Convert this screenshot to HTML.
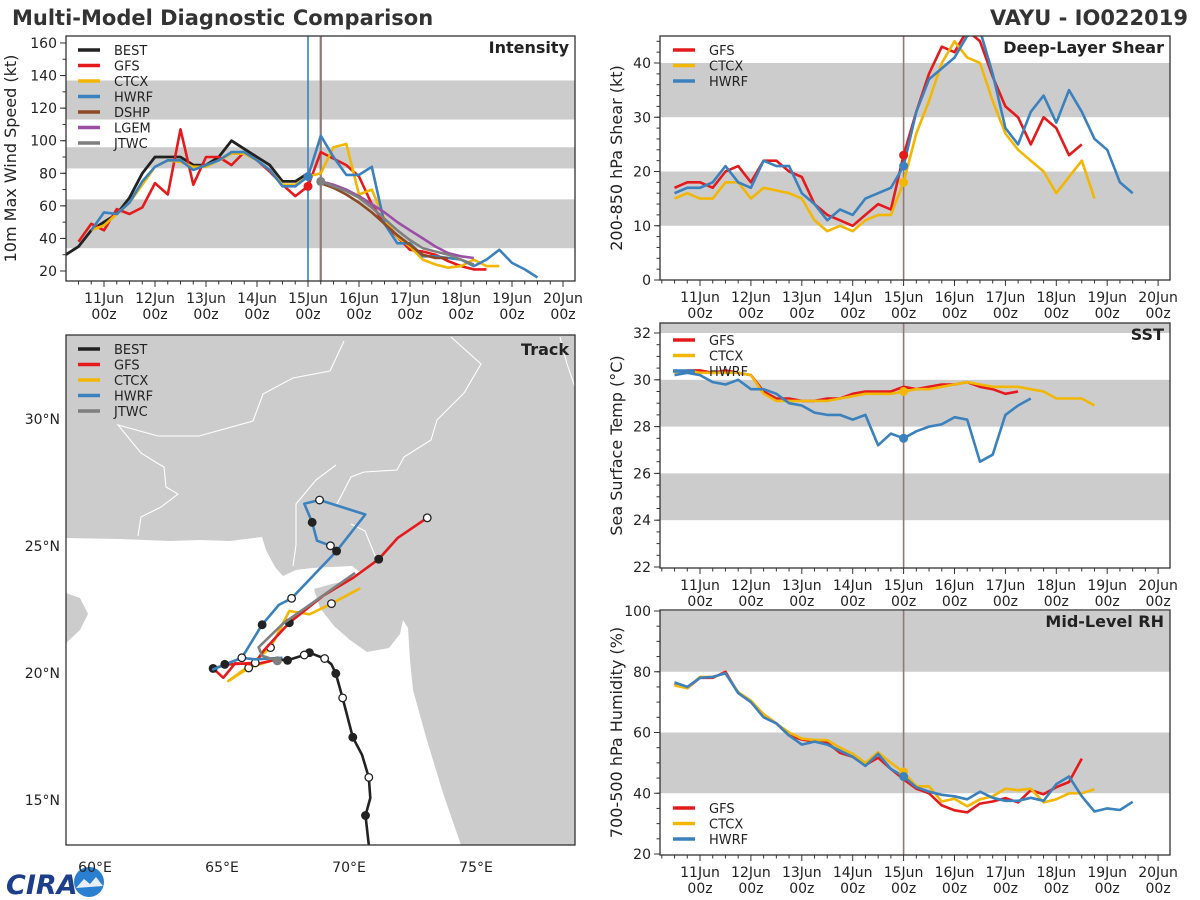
<!DOCTYPE html>
<html><head><meta charset="utf-8"><style>
html,body{margin:0;padding:0;background:#fff;}
svg{display:block;font-family:"DejaVu Sans","Liberation Sans",sans-serif;}
</style></head>
<body>
<svg id="fig" width="1200" height="900" viewBox="0 0 1200 900" xmlns="http://www.w3.org/2000/svg">
<text x="12" y="25" font-size="21" font-weight="bold" fill="#333">Multi-Model Diagnostic Comparison</text>
<text x="1188" y="25" font-size="21" font-weight="bold" fill="#333" text-anchor="end">VAYU - IO022019</text>
<g>
<text x="6" y="894" font-size="27" font-weight="bold" font-style="italic" fill="#1d3f8a">CIRA</text>
<circle cx="89" cy="882" r="15" fill="#2a7fd0"></circle>
<path d="M76 888 L84 879 L90 884 L96 877 L103 886 Z" fill="#e8eef8"></path>
</g>
<g id="mapbg">
<rect x="66" y="335" width="509" height="510" fill="#cccccc"></rect>
<polygon points="66,538 120,539 170,541 200,540 230,541 262,537 266,550 275,567 283,576 296,570 312,568 332,567 352,566 360,572 350,580 332,584 314,589 320,608 334,626 350,640 367,652 389,648 400,634 403,620 408,628 410,660 413,690 426,737 443,793 461,845 66,845" fill="#ffffff"></polygon>
<polygon points="66,593 80,598 88,614 80,630 66,643" fill="#cccccc"></polygon>
<polyline points="138,536 141,517 161,507 178,494 166,487 164,467 157,463 141,453 118,425 158,436 199,436 253,421 263,394 293,378 330,371 344,341" fill="none" stroke="#ffffff" stroke-width="1.1"></polyline>
<polyline points="293,566 296,545 296,504 316,480 336,465" fill="none" stroke="#ffffff" stroke-width="1.1"></polyline>
<polyline points="337,504 351,477 364,472 397,470 404,457 431,440 437,420 464,393 481,364 451,337" fill="none" stroke="#ffffff" stroke-width="1.1"></polyline>
<polyline points="351,524 365,531 376,558" fill="none" stroke="#ffffff" stroke-width="1.1"></polyline>
<polyline points="560,337 567,364 575,387" fill="none" stroke="#ffffff" stroke-width="1.1"></polyline>
</g>
</svg>
<script>
// ---------------- DATA ----------------
const dayLabels = ['11Jun','12Jun','13Jun','14Jun','15Jun','16Jun','17Jun','18Jun','19Jun','20Jun'];
const hourLabel = '00z';
const bestIntStart = -0.75;
const bestInt = [30,35,45,50,55,65,80,90,90,90,85,85,90,100,95,90,85,75,75,80];
const gfsIntStart = -0.5;
const gfsInt = [38,49,45,58,55,59,74,67,107,73,90,90,85,93,88,81,73,66,72,93,89,85,78,61,49,41,33,32,30,26,23,21,21];
const ctcxIntStart = -0.25;
const ctcxInt = [45,48,55,62,73,84,88,87,84,84,88,92,92,88,82,73,73,78,80,96,98,67,70,52,41,35,27,24,22,23,27,23,23];
const hwrfIntStart = -0.25;
const hwrfInt = [45,56,55,62,75,84,88,88,82,85,88,93,93,88,82,72,72,78,103,90,79,79,84,49,37,37,29,29,28,27,23,27,33,25,21,16];
const dshpIntStart = 4.25;
const dshpInt = [74,71,67,62,56,49,42,36,30,28,28];
const lgemIntStart = 4.25;
const lgemInt = [75,73,70,66,61,56,50,45,40,35,31,29,28];
const jtwcIntStart = 4.25;
const jtwcInt = [75,72,69,65,59,52,45,39,34,32,30,27,24];
const intTicks = [20,40,60,80,100,120,140,160];
const gfsShear = [17,18,18,17,20,21,18,22,22,20,19,14,12,11,10,12,14,13,23,31,38,43,42,46,44,37.5,32,30,25,30,28,23,25];
const ctcxShear = [15,16,15,15,18,18,15,17,16.5,16,15,11,9,10,9,11,12,12,18,27,33,40,44,41,40,33,27,24,22,20,16,19,22,15];
const hwrfShear = [16,17,17,18,21,18,17,22,21,21,16,14,11,13,12,15,16,17,21,31,37,39,41,45,46,38,28,25,31,34,29,35,31,26,24,18,16];
const shearTicks = [0,10,20,30,40];
const gfsSst = [30.3,30.4,30.4,30.3,30.4,30.3,30.2,29.5,29.2,29.2,29.1,29.1,29.2,29.2,29.4,29.5,29.5,29.5,29.7,29.6,29.7,29.8,29.8,29.9,29.7,29.6,29.4,29.5];
const ctcxSst = [30.3,30.4,30.3,30.3,30.3,30.3,30.2,29.4,29.1,29.1,29.1,29.1,29.1,29.2,29.3,29.4,29.4,29.4,29.5,29.6,29.6,29.7,29.8,29.9,29.8,29.7,29.7,29.7,29.6,29.5,29.2,29.2,29.2,28.9];
const hwrfSst = [30.2,30.3,30.2,29.9,29.8,30.0,29.6,29.6,29.4,29.0,28.9,28.6,28.5,28.5,28.3,28.5,27.2,27.7,27.5,27.8,28.0,28.1,28.4,28.3,26.5,26.8,28.5,28.9,29.2];
const sstTicks = [22,24,26,28,30,32];
const gfsRh = [76,74.6,78,78,80,73,70,66,63,59,57.7,57,56.6,53.3,52,49.3,51.7,48,44.6,41.5,40,36,34.4,33.7,36.6,37.3,38.4,37,41,39.7,42,43.7,51.4];
const ctcxRh = [75.5,74.6,78.3,78.3,79.5,73.3,70.5,66,63,60,58,57.5,57.5,55,53,50,53.5,50,47,42.3,42.3,37.3,38.2,35.7,38,39,41.5,41,41.5,37,38,40,40,41.3];
const hwrfRh = [76.5,75,78,78.3,79.5,73,70,65,63,59,56,57,56,54,52,49,53,48,45.5,42,40.5,39.5,39,38,40.5,38.5,37.5,37.5,38.5,37.5,43,45.5,39,34,35,34.5,37.2];
const rhTicks = [20,40,60,80,100];
const rightStart = -0.5;
const bestLon = [70.78,70.65,70.84,70.78,70.51,70.15,69.75,69.48,69.31,69.04,68.44,68.24,67.58,67.11];
const bestLat = [13.23,14.39,15.08,15.89,16.78,17.47,19.02,19.98,20.34,20.57,20.80,20.71,20.50,20.54];
const bestMk  = ['','f','','o','','f','o','f','','o','f','o','f',''];
const gfsLon = [67.18,66.31,65.52,65.05,64.65,65.25,66.31,66.65,67.65,68.98,70.18,71.17,71.91,73.08];
const gfsLat = [20.54,20.34,20.38,19.81,20.18,20.34,20.40,20.89,21.98,23.04,23.76,24.48,25.31,26.11];
const gfsMk  = ['','','','','f','','o','','f','','','f','','o'];
const hwrfLon = [67.38,66.31,65.78,64.65,65.11,65.78,66.58,67.24,67.74,69.51,70.64,68.84,68.24,68.55,68.74,69.27,69.55];
const hwrfLat = [20.60,20.54,20.60,20.14,20.34,20.60,21.90,22.68,22.94,24.80,26.24,26.81,26.66,25.93,25.21,25.01,24.80];
const hwrfMk  = ['','','','','f','o','f','','o','f','','o','','f','','o',''];
const ctcxLon = [67.11,66.05,65.25,66.05,66.91,67.65,68.44,69.31,70.44];
const ctcxLat = [20.54,20.20,19.68,20.27,21.00,22.44,22.31,22.73,23.34];
const ctcxMk  = ['','o','','','o','','','o',''];
const jtwcLon = [67.18,66.58,66.44,67.38,68.98,70.24];
const jtwcLat = [20.48,20.68,21.01,21.93,23.05,23.94];
const lonTicks = [60,65,70,75];
const latTicks = [15,20,25,30];

const C = {BEST:'#222222',GFS:'#e41a1c',CTCX:'#f2b705',HWRF:'#3b81bd',DSHP:'#8c4a26',LGEM:'#9b4fa5',JTWC:'#7f7f7f'};
const NS='http://www.w3.org/2000/svg';
const svg=document.getElementById('fig');
function mk(tag,attrs,parent){const e=document.createElementNS(NS,tag);for(const k in attrs)e.setAttribute(k,attrs[k]);(parent||svg).appendChild(e);return e;}

function panel(p){
  const g=mk('g',{});
  
  
  const xs=t=>p.xa+p.xb*t;
  const ys=v=>p.yA+(v-p.vA)*(p.yB-p.yA)/(p.vB-p.vA);
  p.xs=xs;p.ys=ys;p.g=g;
  const cid='clip-'+p.name;
  const cp=mk('clipPath',{id:cid},g);
  mk('rect',{x:p.x0,y:p.y0,width:p.x1-p.x0,height:p.y1-p.y0},cp);
  p.clip='url(#'+cid+')';
  for(const b of p.bands){
    const ya=Math.max(p.y0,ys(b[1])), yb=Math.min(p.y1,ys(b[0]));
    const r=mk('rect',{x:p.x0,y:ya,width:p.x1-p.x0,height:yb-ya,fill:'#cccccc'},g);
    
    
  }
  for(let i=-3;i<=40;i++){
    const t=i*0.25, x=xs(t);
    if(x<p.x0||x>p.x1)continue;
    const major=(i%4===0);
    mk('line',{x1:x,x2:x,y1:p.y1,y2:p.y1+(major?6:3.5),stroke:'#333','stroke-width':1},g);
  }
  dayLabels.forEach((d,i)=>{
    const x=xs(i);
    const t1=mk('text',{x:x,y:p.y1+22,'font-size':14,'text-anchor':'middle',fill:'#222'},g);
    t1.textContent=d;
    
    
    const t2=mk('text',{x:x,y:p.y1+38,'font-size':14,'text-anchor':'middle',fill:'#222'},g);
    t2.textContent=hourLabel;
    
    
  });
  for(let v=p.minorStart;v<=p.vTop+1e-6;v+=p.minor){
    const y=ys(v); if(y<p.y0-0.5||y>p.y1+0.5)continue;
    mk('line',{x1:p.x0-3.5,x2:p.x0,y1:y,y2:y,stroke:'#333','stroke-width':1},g);
  }
  p.ticks.forEach(v=>{
    const y=ys(v);
    mk('line',{x1:p.x0-6,x2:p.x0,y1:y,y2:y,stroke:'#333','stroke-width':1},g);
    const t=mk('text',{x:p.x0-9,y:y+5,'font-size':14,'text-anchor':'end',fill:'#222'},g);
    t.textContent=v;
    
    
  });
  const cy=(p.y0+p.y1)/2;
  const yl=mk('text',{x:p.ylx,y:cy,'font-size':16,'text-anchor':'middle',fill:'#222',transform:'rotate(-90 '+p.ylx+' '+cy+')'},g);
  yl.textContent=p.ylabel;
  
  
  const tt=mk('text',{x:p.x1-6,y:p.y0+17,'font-size':16,'font-weight':'bold','text-anchor':'end',fill:'#222'},g);
  tt.textContent=p.title;
  
  
  return p;
}
function frame(p){
  const f=mk('rect',{x:p.x0,y:p.y0,width:p.x1-p.x0,height:p.y1-p.y0,fill:'none',stroke:'#333','stroke-width':1.3},p.g);
  
  
}
function series(p,data,start,color,name,w){
  const pts=data.map((v,i)=>p.xs(start+i*0.25).toFixed(1)+','+p.ys(v).toFixed(1)).join(' ');
  const l=mk('polyline',{points:pts,fill:'none',stroke:color,'stroke-width':w||2.6,'stroke-linejoin':'round','clip-path':p.clip},p.g);
  
  
  return l;
}
function dot(p,t,v,color,name){
  const c=mk('circle',{cx:p.xs(t),cy:p.ys(v),r:4.5,fill:color},p.g);
  
  
}
function vline(p,t,color,w){
  const l=mk('line',{x1:p.xs(t),x2:p.xs(t),y1:p.y0,y2:p.y1,stroke:color,'stroke-width':w||1.6},p.g);
  
  
}
function legend(g,x,y,items,step){
  items.forEach((it,i)=>{
    const yy=y+i*step;
    const l=mk('line',{x1:x,x2:x+22,y1:yy,y2:yy,stroke:C[it],'stroke-width':3.5},g);
    
    
    const t=mk('text',{x:x+36,y:yy+5,'font-size':13,fill:'#222'},g);
    t.textContent=it;
    
    
  });
}

const pI=panel({name:'intensity',x0:66,x1:575,y0:36,y1:281,xa:104,xb:51,yA:271,vA:20,yB:43,vB:160,vTop:164,
  bands:[[34,64],[83,96],[113,137]],ticks:intTicks,minor:10,minorStart:20,ylabel:'10m Max Wind Speed (kt)',ylx:16,title:'Intensity'});
vline(pI,4.0,'#3b81bd',1.6);
vline(pI,4.25,'#8e7a78',2.2);
series(pI,bestInt,bestIntStart,C.BEST,'best-intensity-line',2.8);
series(pI,gfsInt,gfsIntStart,C.GFS,'gfs-intensity-line');
series(pI,ctcxInt,ctcxIntStart,C.CTCX,'ctcx-intensity-line');
series(pI,hwrfInt,hwrfIntStart,C.HWRF,'hwrf-intensity-line');
series(pI,dshpInt,dshpIntStart,C.DSHP,'dshp-intensity-line');
series(pI,lgemInt,lgemIntStart,C.LGEM,'lgem-intensity-line');
series(pI,jtwcInt,jtwcIntStart,C.JTWC,'jtwc-intensity-line');
dot(pI,4.0,gfsInt[18],C.GFS,'gfs-analysis-dot');
dot(pI,4.0,hwrfInt[17],C.HWRF,'hwrf-analysis-dot');
dot(pI,4.25,jtwcInt[0],C.JTWC,'jtwc-analysis-dot');
frame(pI);
legend(pI.g,78,50,['BEST','GFS','CTCX','HWRF','DSHP','LGEM','JTWC'],15.5);

const pS=panel({name:'shear',x0:660,x1:1170,y0:36,y1:280,xa:700,xb:50.9,yA:280,vA:0,yB:63,vB:40,vTop:45,
  bands:[[10,20],[30,40]],ticks:shearTicks,minor:2,minorStart:0,ylabel:'200-850 hPa Shear (kt)',ylx:622,title:'Deep-Layer Shear'});
vline(pS,4.0,'#8e7a78',1.6);
series(pS,gfsShear,rightStart,C.GFS,'gfs-shear-line');
series(pS,ctcxShear,rightStart,C.CTCX,'ctcx-shear-line');
series(pS,hwrfShear,rightStart,C.HWRF,'hwrf-shear-line');
dot(pS,4.0,gfsShear[18],C.GFS,'gfs-shear-dot');
dot(pS,4.0,ctcxShear[18],C.CTCX,'ctcx-shear-dot');
dot(pS,4.0,hwrfShear[18],C.HWRF,'hwrf-shear-dot');
frame(pS);
legend(pS.g,673,50,['GFS','CTCX','HWRF'],15.5);

const pT=panel({name:'sst',x0:660,x1:1170,y0:323,y1:568,xa:700,xb:50.9,yA:567,vA:22,yB:333,vB:32,vTop:32.4,
  bands:[[24,26],[28,30],[32,34]],ticks:sstTicks,minor:0.5,minorStart:22,ylabel:'Sea Surface Temp (°C)',ylx:622,title:'SST'});
vline(pT,4.0,'#8e7a78',1.6);
series(pT,gfsSst,rightStart,C.GFS,'gfs-sst-line');
series(pT,ctcxSst,rightStart,C.CTCX,'ctcx-sst-line');
series(pT,hwrfSst,rightStart,C.HWRF,'hwrf-sst-line');
dot(pT,4.0,ctcxSst[18],C.CTCX,'ctcx-sst-dot');
dot(pT,4.0,hwrfSst[18],C.HWRF,'hwrf-sst-dot');
frame(pT);
legend(pT.g,673,340,['GFS','CTCX','HWRF'],15.5);

const pR=panel({name:'rh',x0:660,x1:1170,y0:610,y1:855,xa:700,xb:50.9,yA:854,vA:20,yB:611,vB:100,vTop:100,
  bands:[[40,60],[80,100]],ticks:rhTicks,minor:5,minorStart:20,ylabel:'700-500 hPa Humidity (%)',ylx:622,title:'Mid-Level RH'});
vline(pR,4.0,'#8e7a78',1.6);
series(pR,gfsRh,rightStart,C.GFS,'gfs-rh-line');
series(pR,ctcxRh,rightStart,C.CTCX,'ctcx-rh-line');
series(pR,hwrfRh,rightStart,C.HWRF,'hwrf-rh-line');
dot(pR,4.0,ctcxRh[18],C.CTCX,'ctcx-rh-dot');
dot(pR,4.0,hwrfRh[18],C.HWRF,'hwrf-rh-dot');
frame(pR);
legend(pR.g,673,808,['GFS','CTCX','HWRF'],15.5);

// ---------------- Track map ----------------
const M={x0:66,x1:575,y0:335,y1:845};
const lonX=lon=>95+(lon-60)*25.4;
const latY=lat=>673-(lat-20)*25.4;
const mg=mk('g',{});


const mcp=mk('clipPath',{id:'clip-map'},mg);
mk('rect',{x:M.x0,y:M.y0,width:M.x1-M.x0,height:M.y1-M.y0},mcp);
function track(lons,lats,marks,color,name){
  const d=lons.map((lo,i)=>(i?'L':'M')+lonX(lo).toFixed(1)+' '+latY(lats[i]).toFixed(1)).join(' ');
  const p=mk('path',{d:d,fill:'none',stroke:color,'stroke-width':2.6,'stroke-linejoin':'round','clip-path':'url(#clip-map)'},mg);
  
  
  if(marks)marks.forEach((m,i)=>{
    if(!m)return;
    const c=mk('circle',{cx:lonX(lons[i]),cy:latY(lats[i]),r:3.8,fill:m==='f'?'#222':'#fff',stroke:'#222','stroke-width':1.3,'clip-path':'url(#clip-map)'},mg);
    
    
  });
}
track(ctcxLon,ctcxLat,ctcxMk,C.CTCX,'ctcx-track');
track(gfsLon,gfsLat,gfsMk,C.GFS,'gfs-track');
track(hwrfLon,hwrfLat,hwrfMk,C.HWRF,'hwrf-track');
track(jtwcLon,jtwcLat,null,C.JTWC,'jtwc-track');
track(bestLon,bestLat,bestMk,C.BEST,'best-track');
const jd=mk('circle',{cx:lonX(jtwcLon[0]),cy:latY(jtwcLat[0]),r:4.5,fill:C.JTWC},mg);


const mf=mk('rect',{x:M.x0,y:M.y0,width:M.x1-M.x0,height:M.y1-M.y0,fill:'none',stroke:'#333','stroke-width':1.3},mg);


lonTicks.forEach(lo=>{
  const t=mk('text',{x:lonX(lo),y:872,'font-size':14,'text-anchor':'middle',fill:'#222'},mg);
  t.textContent=lo+'°E';
  
  
});
latTicks.forEach(la=>{
  const t=mk('text',{x:60,y:latY(la)+5,'font-size':14,'text-anchor':'end',fill:'#222'},mg);
  t.textContent=la+'°N';
  
  
});
const mt=mk('text',{x:569,y:355,'font-size':16,'font-weight':'bold','text-anchor':'end',fill:'#222'},mg);
mt.textContent='Track';


legend(mg,78,349,['BEST','GFS','CTCX','HWRF','JTWC'],15.5);
</script>
</body></html>
